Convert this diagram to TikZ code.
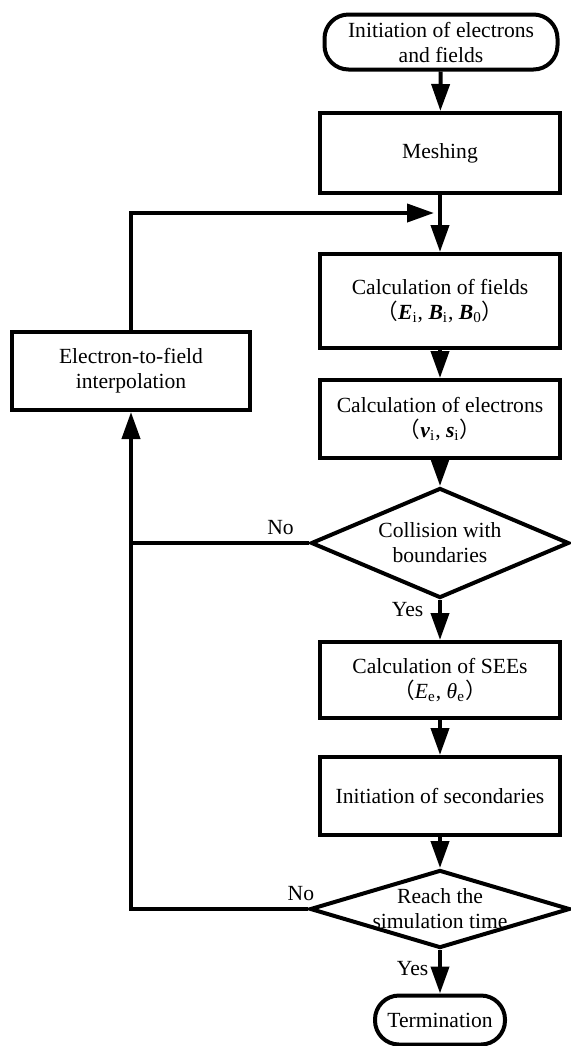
\documentclass[tikz,border=0pt]{standalone}
\usepackage{fontspec}
\setmainfont{Liberation Serif}
\newfontfamily\cjk{Noto Sans CJK SC}
\usetikzlibrary{shapes.geometric,arrows.meta}
\newcommand{\lpar}{{\cjk （}}
\newcommand{\rpar}{{\cjk ）}}
\newcommand{\bvec}[1]{\textbf{\textit{#1}}}
\tikzset{
    txt/.style={font=\fontsize{10.8}{12.5}\selectfont, align=center},
    proc/.style={draw, line width=2pt, rectangle, minimum width=120pt, inner sep=1pt, txt},
    endpoint/.style={draw, line width=2pt, rectangle, rounded corners=12pt, inner sep=1pt, txt},
    decision/.style={draw, line width=2pt, diamond, inner sep=0pt},
    flow/.style={line width=2pt, -{Triangle[length=13.5pt,width=9pt]}},
    link/.style={line width=2pt},
}
\begin{document}
\begin{tikzpicture}[x=0.5pt,y=-0.5pt]
    \useasboundingbox (0,0) rectangle (571,1046);
    % main column
    \node[endpoint, minimum width=116.5pt, minimum height=27.5pt] (start) at (441,42) {Initiation of electrons\\and fields};
    \node[proc, minimum height=40pt] (mesh) at (440,153) {Meshing};
    \node[proc, minimum height=47pt] (fields) at (440,301) {Calculation of fields\\\lpar\bvec{E}\textsubscript{i}, \bvec{B}\textsubscript{i}, \bvec{B}\textsubscript{0}\rpar};
    \node[proc, minimum height=39pt] (elec) at (440,419) {Calculation of electrons\\\lpar\bvec{v}\textsubscript{i}, \bvec{s}\textsubscript{i}\rpar};
    \node[decision, minimum width=129pt, minimum height=55pt,
          label={[txt]center:Collision with\\boundaries}] (coll) at (440,543) {};
    \node[proc, minimum height=38pt] (sees) at (440,680) {Calculation of SEEs\\\lpar\textit{E}\textsubscript{e}, \textit{θ}\textsubscript{e}\rpar};
    \node[proc, minimum height=39pt] (sec) at (440,796) {Initiation of secondaries};
    \node[decision, minimum width=130pt, minimum height=39pt,
          label={[txt]center:Reach the\\simulation time}] (reach) at (440,909) {};
    \node[endpoint, minimum width=65pt, minimum height=24.5pt] (term) at (440,1020) {Termination};
    % side box
    \node[proc, minimum width=119pt, minimum height=39pt] (interp) at (131,371) {Electron-to-field\\interpolation};
    \coordinate (merge) at (434,213);
    % arrows
    \draw[flow] (start) -- (mesh);
    \draw[flow] (mesh) -- (fields);
    \draw[flow] (fields) -- (elec);
    \draw[flow] (elec) -- (coll);
    \draw[flow] (coll) -- node[txt, left=4pt, pos=0.23] {Yes} (sees);
    \draw[flow] (sees) -- (sec);
    \draw[flow] (sec) -- (reach);
    \draw[flow] (reach) -- node[txt, left=1.5pt, pos=0.42] {Yes} (term);
    % loop back
    \draw[link] (coll.west) -- node[txt, above, pos=0.16] {No} (coll.west -| interp.south);
    \draw[flow] (reach.west) -- node[txt, above, pos=0.04] {No} (reach.west -| interp.south) -- (interp.south);
    \draw[flow] (interp.north) |- (merge);
\end{tikzpicture}
\end{document}
